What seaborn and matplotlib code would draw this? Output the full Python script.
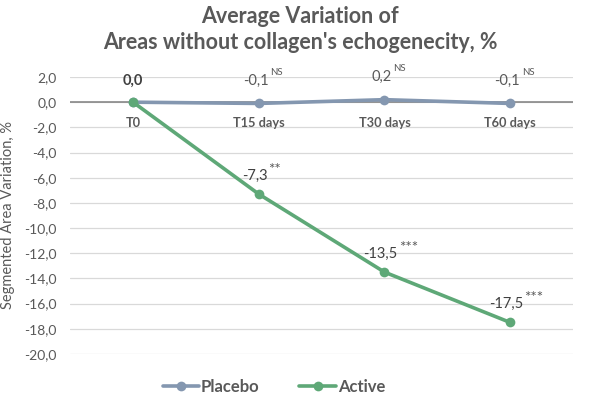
import pandas as pd
import seaborn as sns
import matplotlib.pyplot as plt

# data
timepoints = ['T0', 'T15 days', 'T30 days', 'T60 days']
placebo = [0.0, -0.1, 0.2, -0.1]
active = [0.0, -7.3, -13.5, -17.5]
placebo_sig = ['', 'NS', 'NS', 'NS']
active_sig = ['', '**', '***', '***']
yticks = list(range(2, -21, -2))

sns.set_style('white')
plt.rcParams['font.family'] = ['Lato', 'DejaVu Sans']
grey = '#595959'
col_placebo = '#8497B0'
col_active = '#5EA877'

df = pd.DataFrame({
    'pos': list(range(len(timepoints))) * 2,
    'value': placebo + active,
    'group': ['Placebo'] * len(placebo) + ['Active'] * len(active),
})

fig = plt.figure(figsize=(6, 3.99), dpi=100)
ax = fig.add_axes([0.117, 0.113, 0.838, 0.694])

# gridlines first so lines sit on top
for t in yticks:
    ax.axhline(t, color='#D9D9D9', lw=0.9, zorder=0)
ax.axhline(0, color='#7F7F7F', lw=1.1, zorder=1)

sns.lineplot(data=df, x='pos', y='value', hue='group', hue_order=['Placebo', 'Active'],
             palette={'Placebo': col_placebo, 'Active': col_active},
             marker='o', markersize=7, markeredgewidth=0, linewidth=2.6, ax=ax, zorder=3)

ax.set_xlim(-0.5, len(timepoints) - 0.5)
ax.set_ylim(-20, 2)
ax.set_yticks(yticks)
ax.set_yticklabels(['{:.1f}'.format(t).replace('.', ',') for t in yticks], color=grey, fontsize=10)
ax.tick_params(axis='y', length=0, pad=10)
ax.set_xticks([])
ax.set_xlabel('')
ax.set_ylabel('Segmented Area Variation, %', color=grey, fontsize=10.5)
ax.yaxis.set_label_coords(-0.109, 0.5)
for s in ax.spines.values():
    s.set_visible(False)

# category labels sitting under the zero line
for i, lab in enumerate(timepoints):
    ax.text(i, -1.15, lab, ha='center', va='top', color=grey, fontsize=9.2, fontweight='bold')

# data labels
def fmt(v):
    return '{:.1f}'.format(v).replace('.', ',')

for i, v in enumerate(placebo):
    if i == 0:
        continue
    lab = ax.annotate(fmt(v), (i, v), xytext=(-2, 11), textcoords='offset points',
                      ha='center', va='bottom', color=grey, fontsize=10.5)
    ax.annotate(placebo_sig[i], xy=(1.06, 0.82), xycoords=lab, ha='left', va='bottom',
                color=grey, fontsize=7)

ax.annotate(fmt(active[0]), (0, active[0]), xytext=(0, 10), textcoords='offset points',
            ha='center', va='bottom', color='#404040', fontsize=10.5, fontweight='bold')
for i, v in enumerate(active):
    if i == 0:
        continue
    lab = ax.annotate(fmt(v), (i, v), xytext=(-3, 8), textcoords='offset points',
                      ha='center', va='bottom', color='#404040', fontsize=10.5)
    ax.annotate(active_sig[i], xy=(1.04, 0.42), xycoords=lab, ha='left', va='bottom',
                color=grey, fontsize=11)

leg = ax.legend(loc='upper center', bbox_to_anchor=(0.405, -0.035), ncol=2, frameon=False,
                fontsize=12, handlelength=2.2, handletextpad=0.1, columnspacing=2.4)
for t in leg.get_texts():
    t.set_color(grey)
    t.set_fontweight('bold')

fig.suptitle("Average Variation of\nAreas without collagen's echogenecity, %",
             x=0.5, y=0.985, color=grey, fontsize=15.5, fontweight='bold', linespacing=1.3)

fig.savefig('out.png', dpi=100, facecolor='white')
